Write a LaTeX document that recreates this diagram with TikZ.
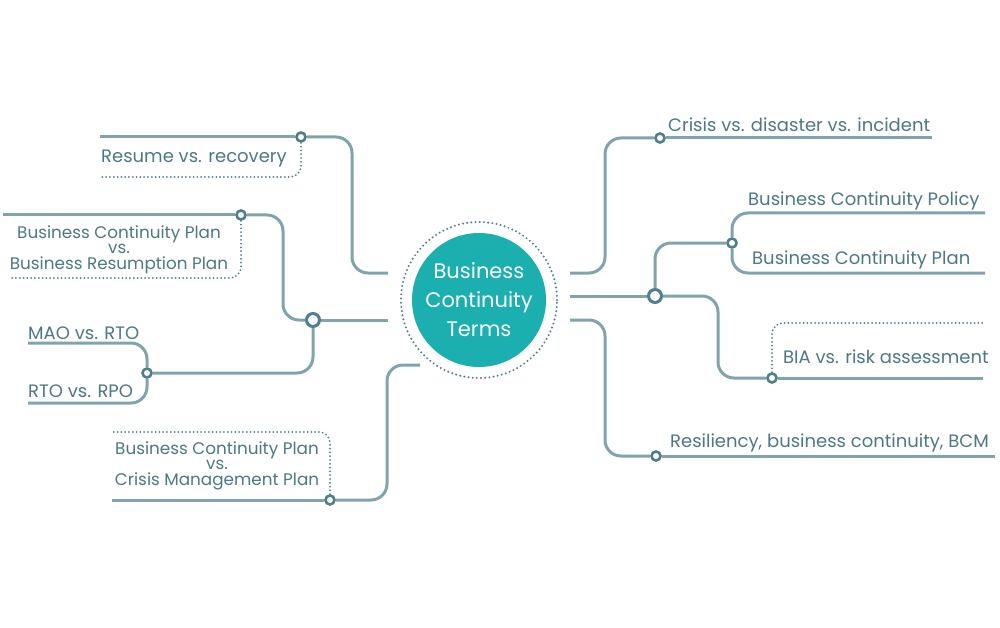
\documentclass[tikz,border=0pt]{standalone}
\usepackage{fontspec}
\newfontfamily\mapfont{Poppins}
\usetikzlibrary{calc}
\definecolor{lineteal}{HTML}{7FA4AC}
\definecolor{knotteal}{HTML}{4F7F8A}
\definecolor{textteal}{HTML}{4B7884}
\definecolor{hubteal}{HTML}{1BAFB0}
\tikzset{
	branch/.style={draw=lineteal, line width=3pt, rounded corners=16pt},
	dotline/.style={draw=knotteal, line width=2pt, dash pattern=on 0pt off 3.8pt, line cap=round, rounded corners=11pt},
	knot/.style={circle, draw=knotteal, fill=white, line width=2.6pt, inner sep=0pt, minimum size=9pt},
	bigknot/.style={knot, line width=3pt, minimum size=13pt},
	term/.style={text=textteal, font=\mapfont\fontsize{18}{15.5}\selectfont, inner sep=0pt, align=center},
	termstack/.style={term, font=\mapfont\fontsize{16.8}{15.5}\selectfont},
	hub/.style={circle, fill=hubteal, text=white, minimum size=134pt, inner sep=0pt, align=center, font=\mapfont\fontsize{21}{29}\selectfont},
	ring/.style={draw=knotteal, line width=2.2pt, dash pattern=on 0pt off 4.2pt, line cap=round}
}
\begin{document}
\begin{tikzpicture}[x=1pt, y=-1pt]
			%%%%% START %%%%%
			\useasboundingbox (0,0) rectangle (1000,628);
			
			\node[hub] (hub) at (479,300) {Business\\Continuity\\Terms};
			\draw[ring] (hub.center) circle (78pt);
			
			%% left side
			\coordinate (resIn) at (388,273);
			\coordinate (resEnd) at (100,137);
			\coordinate (resDot) at (100,177);
			\node[knot] (resK) at (301,137) {};
			\draw[branch] (resIn) -| (352,137) -- (resK);
			\draw[branch] (resK) -- (resEnd);
			\draw[dotline] (resK) |- (resDot);
			\node[term, anchor=base west] (resT) at (101,163) {Resume vs. recovery};
			
			\coordinate (leftIn) at (388,320);
			\node[bigknot] (leftK) at (313,320) {};
			\draw[branch] (leftIn) -- (leftK);
			
			\coordinate (bcpEnd) at (3,215);
			\coordinate (bcpDot) at (12,278);
			\node[knot] (bcpK) at (241,215) {};
			\draw[branch] (leftK) -| (283,215) -- (bcpK);
			\draw[branch] (bcpK) -- (bcpEnd);
			\draw[dotline] (bcpK) |- (bcpDot);
			\node[termstack, anchor=north] (bcpT) at (119,225.5) {Business Continuity Plan\\vs.\\Business Resumption Plan};
			
			\coordinate (maoEnd) at (28,343);
			\coordinate (rpoEnd) at (28,403);
			\node[knot] (maoK) at (147,373) {};
			\draw[branch] (leftK) |- (maoK);
			\draw[branch] (maoK) |- (maoEnd);
			\draw[branch] (maoK) |- (rpoEnd);
			\node[term, anchor=base west] (maoT) at (28,339.5) {MAO vs. RTO};
			\node[term, anchor=base west] (rpoT) at (28,397) {RTO vs. RPO};
			
			\coordinate (cmpIn) at (420,365);
			\coordinate (cmpEnd) at (112,500);
			\coordinate (cmpDot) at (112,432);
			\node[knot] (cmpK) at (330,500) {};
			\draw[branch] (cmpIn) -| (387,500) -- (cmpK);
			\draw[branch] (cmpK) -- (cmpEnd);
			\draw[dotline] (cmpK) |- (cmpDot);
			\node[termstack, anchor=north] (cmpT) at (217,441.5) {Business Continuity Plan\\vs.\\Crisis Management Plan};
			
			%% right side
			\coordinate (crIn) at (570,273);
			\coordinate (crEnd) at (932,138);
			\node[knot] (crK) at (660,138) {};
			\draw[branch] (crIn) -| (605,138) -- (crK);
			\draw[branch] (crK) -- (crEnd);
			\node[term, anchor=base west] (crT) at (668,132) {Crisis vs. disaster vs. incident};
			
			\coordinate (polIn) at (570,296);
			\node[bigknot] (rightK) at (655,296) {};
			\draw[branch] (polIn) -- (rightK);
			
			\coordinate (polEnd) at (985,213);
			\coordinate (planEnd) at (985,273);
			\node[knot] (polK) at (732,243) {};
			\draw[branch] (rightK) |- (polK);
			\draw[branch] (polK) |- (polEnd);
			\draw[branch] (polK) |- (planEnd);
			\node[term, anchor=base west] (polT) at (748,206) {Business Continuity Policy};
			\node[term, anchor=base west] (planT) at (752,264) {Business Continuity Plan};
			
			\coordinate (biaEnd) at (983,378);
			\coordinate (biaDot) at (985,323);
			\node[knot] (biaK) at (772,378) {};
			\draw[branch] (rightK) -| (718,378) -- (biaK);
			\draw[branch] (biaK) -- (biaEnd);
			\draw[dotline] (biaK) |- (biaDot);
			\node[term, anchor=base west] (biaT) at (783,363) {BIA vs. risk assessment};
			
			\coordinate (resiIn) at (570,320);
			\coordinate (resiEnd) at (995,456);
			\node[knot] (resiK) at (656,456) {};
			\draw[branch] (resiIn) -| (605,456) -- (resiK);
			\draw[branch] (resiK) -- (resiEnd);
			\node[term, anchor=base west] (resiT) at (670,447) {Resiliency, business continuity, BCM};
			%%%%% END %%%%%
\end{tikzpicture}
\end{document}
